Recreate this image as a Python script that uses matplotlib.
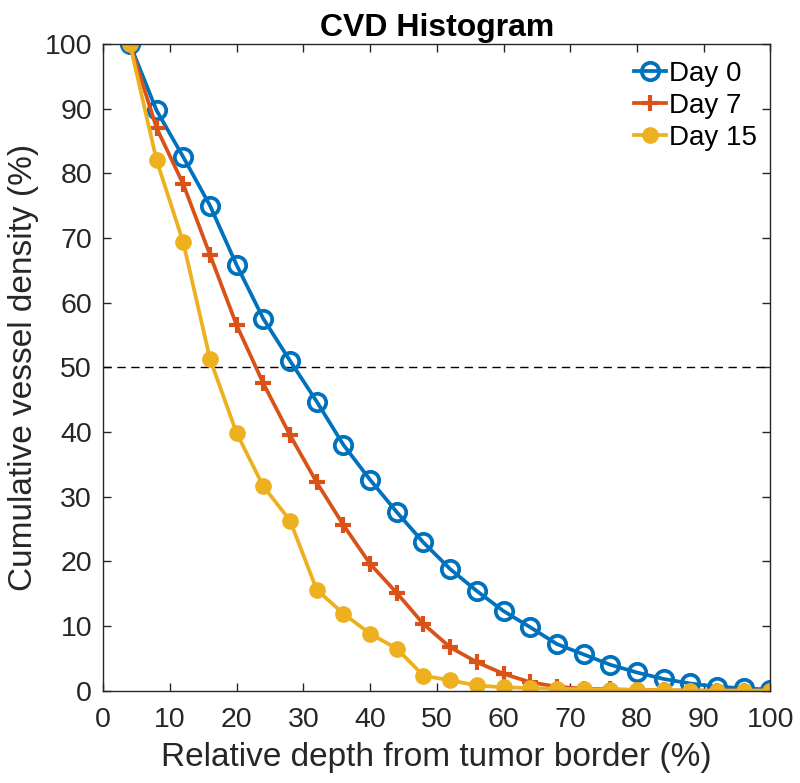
import numpy as np
import matplotlib.pyplot as plt

plt.rcParams['font.family'] = ['Liberation Sans', 'DejaVu Sans']

depth = [4, 8, 12, 16, 20, 24, 28, 32, 36, 40, 44, 48, 52,
         56, 60, 64, 68, 72, 76, 80, 84, 88, 92, 96, 100]
day0 = [100, 89.7, 82.5, 75.0, 65.8, 57.5, 51.0, 44.7, 38.0, 32.6, 27.6, 22.9, 18.8,
        15.4, 12.3, 9.8, 7.2, 5.6, 4.0, 2.8, 1.8, 1.1, 0.6, 0.35, 0.15]
day7 = [100, 87.0, 78.3, 67.4, 56.5, 47.5, 39.5, 32.2, 25.6, 19.6, 15.1, 10.3, 6.7,
        4.4, 2.6, 1.3, 0.6, 0.3, 0.2, 0.1, 0.05, 0.0, 0.0, 0.0, 0.0]
day15 = [100, 82.0, 69.3, 51.3, 39.8, 31.6, 26.3, 15.6, 11.9, 8.8, 6.5, 2.3, 1.6,
         0.8, 0.5, 0.4, 0.3, 0.2, 0.15, 0.1, 0.05, 0.0, 0.0, 0.0, 0.0]

blue = '#0072BD'
red = '#D95319'
yellow = '#EDB120'
dark = '#262626'

fig = plt.figure(figsize=(8, 7.83), dpi=100)
ax = fig.add_axes([0.129, 0.118, 0.834, 0.826])

ax.axhline(50, color='black', ls='--', lw=1, dashes=(6, 4))
ax.plot(depth, day0, '-o', color=blue, lw=2.7, ms=12.5, mew=2.7, mfc='none', label='Day 0')
ax.plot(depth, day7, '-+', color=red, lw=2.7, ms=12, mew=3, label='Day 7')
ax.plot(depth, day15, '-o', color=yellow, lw=2.7, ms=11, mew=1, mfc=yellow, label='Day 15')

ax.set_xlim(0, 100)
ax.set_ylim(0, 100)
ax.set_xticks(np.arange(0, 101, 10))
ax.set_yticks(np.arange(0, 101, 10))
ax.tick_params(direction='in', top=True, right=True, labelsize=20.5, length=6,
               width=1, colors=dark)
ax.tick_params(axis='x', pad=12)
ax.tick_params(axis='y', pad=8)
for s in ax.spines.values():
    s.set_color(dark)
    s.set_linewidth(1)

ax.set_title('CVD Histogram', fontsize=23, fontweight='bold', pad=6)
ax.set_xlabel('Relative depth from tumor border (%)', fontsize=24, color=dark, labelpad=6)
ax.set_ylabel('Cumulative vessel density (%)', fontsize=24, color=dark, labelpad=4)

ax.legend(loc='upper right', frameon=False, fontsize=20, handlelength=1.15,
          handletextpad=0.1, labelspacing=0.22, borderaxespad=0.2,
          bbox_to_anchor=(1.005, 1.0))

plt.savefig('out.png', dpi=100)
